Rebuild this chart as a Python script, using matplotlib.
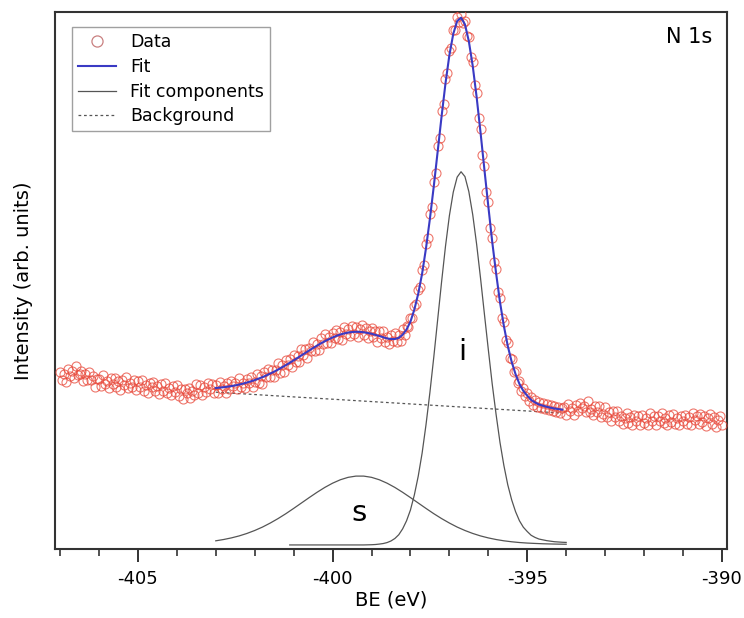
import matplotlib
matplotlib.use("Agg")
import matplotlib.pyplot as plt
from matplotlib.ticker import MultipleLocator
import numpy as np

plt.rcParams["axes.unicode_minus"] = False

# XPS N 1s spectrum, binding energy in eV (negative scale as in the original)
# measured points, 0.05 eV step, three stretches
data_start = [-407.0, -403.0, -394.05]
data_left = [
    32.9, 31.4, 32.5, 31.1, 33.5, 32.3, 33.2, 31.8, 34.1, 32.4,
    32.5, 33.2, 31.2, 32.5, 31.4, 32.9, 31.4, 32.3, 30.2, 31.6,
    31.7, 30.3, 32.4, 30.7, 31.2, 29.9, 31.8, 30.8, 31.9, 30.2,
    31.3, 29.6, 31.4, 30.5, 32.0, 29.9, 30.9, 30.1, 31.5, 29.6,
    31.2, 30.2, 31.5, 29.5, 30.6, 29.1, 31.0, 30.1, 31.1, 29.5,
    30.4, 28.9, 30.8, 29.5, 31.0, 29.0, 29.9, 28.7, 30.3, 29.3,
    30.5, 28.5, 29.8, 28.0, 29.8, 29.0, 30.0, 28.1, 29.5, 28.6,
    30.7, 29.1, 30.5, 28.7, 30.2, 29.3, 30.9, 29.7, 30.7, 29.1,
]
data_mid = [
    30.6, 29.1, 31.1, 29.8, 30.3, 29.0, 31.0, 29.8, 31.3, 30.3,
    30.9, 29.7, 31.9, 30.1, 30.9, 29.9, 31.7, 30.9, 32.1, 30.2,
    31.1, 32.6, 31.0, 32.2, 30.8, 33.0, 32.1, 33.6, 32.1, 33.3,
    32.1, 33.4, 34.6, 32.8, 34.2, 33.0, 35.1, 34.2, 35.3, 33.8,
    36.1, 34.9, 35.9, 34.9, 37.3, 36.1, 37.2, 35.5, 37.5, 36.8,
    38.5, 36.9, 38.1, 37.1, 39.2, 38.2, 40.0, 38.3, 39.5, 38.3,
    40.2, 39.3, 40.7, 39.1, 40.4, 38.9, 41.3, 40.1, 41.0, 39.6,
    41.5, 40.0, 41.3, 39.4, 41.0, 41.7, 39.9, 41.1, 39.3, 40.6,
    41.1, 39.4, 40.6, 38.6, 40.6, 39.2, 40.5, 38.5, 39.5, 38.1,
    39.9, 38.7, 40.3, 38.5, 39.8, 38.7, 40.9, 39.9, 41.5, 41.3,
    43.0, 43.0, 45.2, 45.6, 48.2, 48.8, 52.0, 52.9, 56.8, 58.0,
    62.3, 63.7, 68.4, 70.0, 75.0, 76.5, 81.5, 82.8, 87.5, 88.6,
    92.8, 93.3, 96.7, 96.6, 99.0, 98.2, 99.6, 97.9, 98.4, 95.6,
    95.3, 91.7, 90.7, 86.4, 84.9, 80.2, 78.3, 73.4, 71.4, 66.5,
    64.6, 59.8, 58.0, 53.5, 52.1, 47.9, 46.7, 43.0, 42.2, 38.9,
    38.4, 35.6, 35.4, 33.0, 33.1, 31.0, 31.3, 29.5, 30.0, 28.4,
    29.1, 27.6, 28.3, 26.9, 27.8, 26.5, 27.4, 26.2, 27.2, 26.0,
    27.0, 25.8, 26.8, 25.7, 26.6, 25.5, 26.5, 25.4, 26.3,
]
data_right = [
    26.4, 25.0, 27.0, 25.7, 26.2, 24.9, 26.9, 25.7, 27.2, 26.2,
    26.7, 25.5, 27.5, 25.5, 26.1, 25.0, 26.6, 25.6, 26.6, 24.6,
    25.2, 26.5, 24.6, 25.5, 23.9, 25.7, 24.6, 25.7, 23.9, 24.8,
    23.3, 24.4, 25.4, 23.4, 24.6, 23.1, 25.0, 23.8, 24.7, 23.0,
    25.0, 23.5, 24.3, 23.1, 25.3, 23.9, 24.8, 23.0, 24.7, 23.8,
    25.3, 23.4, 24.3, 23.0, 24.9, 23.6, 25.2, 23.3, 24.3, 23.0,
    24.7, 23.8, 25.0, 23.3, 24.6, 23.0, 25.3, 24.0, 24.8, 23.2,
    25.1, 23.6, 24.8, 22.9, 24.4, 25.1, 23.3, 24.6, 22.8, 24.1,
    24.7, 23.1,
]

# fit envelope, 0.1 eV step from -403.0
fit_start = -403.0
fit_int = [
    29.97, 30.04, 30.12, 30.22, 30.33, 30.46, 30.62, 30.79, 30.99, 31.21,
    31.45, 31.72, 32.00, 32.32, 32.67, 33.02, 33.41, 33.82, 34.23, 34.67,
    35.12, 35.58, 36.05, 36.50, 36.97, 37.43, 37.86, 38.29, 38.68, 39.05,
    39.39, 39.69, 39.94, 40.14, 40.30, 40.40, 40.44, 40.43, 40.36, 40.22,
    40.08, 39.87, 39.66, 39.43, 39.21, 39.09, 39.10, 39.31, 39.90, 40.87,
    42.33, 44.58, 47.53, 51.28, 56.03, 61.49, 67.57, 74.06, 80.57, 86.70,
    91.95, 95.92, 98.31, 98.94, 97.69, 94.55, 89.95, 84.17, 77.60, 70.66,
    63.84, 57.24, 51.36, 45.98, 41.53, 37.80, 34.86, 32.55, 30.73, 29.44,
    28.55, 27.76, 27.29, 26.91, 26.69, 26.48, 26.31, 26.15, 26.05, 25.94,
]

# component s, 0.2 eV step from -403.0
s_start = -403.0
s_int = [
    1.52, 1.76, 2.06, 2.43, 2.89, 3.44, 4.08, 4.83, 5.66, 6.57,
    7.55, 8.56, 9.57, 10.55, 11.46, 12.25, 12.89, 13.34, 13.57, 13.57,
    13.34, 12.89, 12.25, 11.46, 10.55, 9.57, 8.56, 7.55, 6.57, 5.66,
    4.83, 4.08, 3.44, 2.89, 2.43, 2.06, 1.76, 1.52, 1.34, 1.20,
    1.10, 1.03, 0.97, 0.93, 0.90, 0.88,
]

# component i, 0.1 eV step from -401.1
i_start = -401.1
i_int = [
    0.75, 0.75, 0.75, 0.75, 0.75, 0.75, 0.75, 0.75, 0.75, 0.75,
    0.75, 0.75, 0.75, 0.75, 0.75, 0.75, 0.75, 0.75, 0.75, 0.75,
    0.77, 0.79, 0.83, 0.91, 1.01, 1.19, 1.49, 1.95, 2.65, 3.75,
    5.25, 7.25, 10.05, 13.55, 17.85, 23.15, 29.15, 35.75, 42.75, 49.75,
    56.35, 62.05, 66.45, 69.25, 70.25, 69.35, 66.55, 62.25, 56.75, 50.45,
    43.75, 37.15, 30.75, 25.05, 19.85, 15.55, 11.95, 9.15, 6.95, 5.25,
    4.05, 3.25, 2.55, 2.15, 1.85, 1.70, 1.55, 1.45, 1.35, 1.30,
    1.25, 1.22,
]

# background
bg_be = [-403.0, -402.0, -401.0, -400.0, -399.0, -398.0, -397.0, -396.0, -395.0, -394.1]
bg_int = [29.20, 28.76, 28.32, 27.89, 27.45, 27.01, 26.57, 26.13, 25.70, 25.30]


def energies(start, vals, step):
    return start + step * np.arange(len(vals))


fig = plt.figure(figsize=(7.44, 6.18), dpi=100)
ax = fig.add_axes([0.0739, 0.1117, 0.9032, 0.8689])

red = "#e8493b"
dark = "#555555"
blue = "#3a3ac4"

# data circles
for start, vals in zip(data_start, [data_left, data_mid, data_right]):
    ax.plot(energies(start, vals, 0.05), vals, ls="none", marker="o",
            ms=6.5, mfc="none", mec=red, mew=0.8, alpha=0.75, zorder=3)

ax.plot(energies(s_start, s_int, 0.2), s_int, color=dark, lw=0.9, zorder=2)
ax.plot(energies(i_start, i_int, 0.1), i_int, color=dark, lw=0.9, zorder=2)
ax.plot(bg_be, bg_int, color=dark, lw=0.9, ls=(0, (2.2, 2.2)), zorder=2)
ax.plot(energies(fit_start, fit_int, 0.1), fit_int, color=blue, lw=1.5, zorder=4)

# legend built from proxy handles
h_data, = ax.plot([], [], ls="none", marker="o", ms=8, mfc="none", mec="#c98080", mew=0.9)
h_fit, = ax.plot([], [], color=blue, lw=1.5)
h_comp, = ax.plot([], [], color=dark, lw=0.9)
h_bg, = ax.plot([], [], color=dark, lw=0.9, ls=(0, (2.2, 2.2)))
leg = ax.legend([h_data, h_fit, h_comp, h_bg],
                ["Data", "Fit", "Fit components", "Background"],
                loc="upper left", bbox_to_anchor=(0.025, 0.972), borderaxespad=0,
                fontsize=12.5, frameon=True, fancybox=False, edgecolor="#888888",
                handlelength=2.2, handletextpad=0.8, labelspacing=0.39,
                borderpad=0.35)
leg.get_frame().set_linewidth(1.0)

ax.text(0.978, 0.953, "N 1s", transform=ax.transAxes, ha="right", va="center",
        fontsize=15)
ax.text(-399.33, 6.7, "s", ha="center", va="center", fontsize=21)
ax.text(-396.67, 36.7, "i", ha="center", va="center", fontsize=21)

ax.set_xlim(-407.13, -389.87)
ax.set_ylim(0, 100)
ax.set_yticks([])
ax.xaxis.set_major_locator(MultipleLocator(5))
ax.xaxis.set_minor_locator(MultipleLocator(1))
ax.tick_params(axis="x", which="major", direction="out", length=9, width=1.4,
               labelsize=13, pad=6, color="#333333")
ax.tick_params(axis="x", which="minor", direction="out", length=5, width=1.2,
               color="#333333")
for sp in ax.spines.values():
    sp.set_linewidth(1.5)
    sp.set_color("#333333")

ax.set_xlabel("BE (eV)", fontsize=14, labelpad=2)
ax.set_ylabel("Intensity (arb. units)", fontsize=14, labelpad=16)

fig.savefig("out.png", dpi=100)
